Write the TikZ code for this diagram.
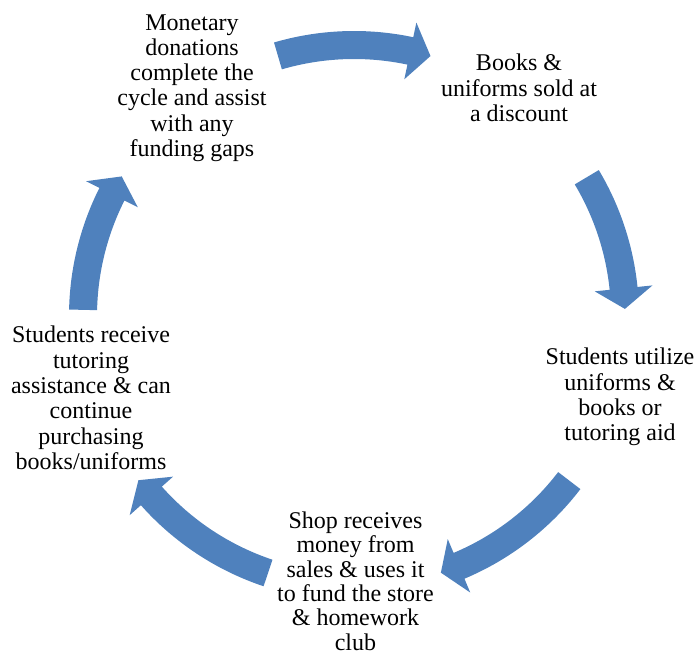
\documentclass[tikz,border=0pt]{standalone}
\usepackage{fontspec}
\setmainfont{Liberation Serif}
\usetikzlibrary{calc}
\definecolor{arrowblue}{RGB}{79,129,189}
\newcommand\cyclearrow[3]{%
  \fill[arrowblue] ($(c)+(#1:257pt)$) arc[start angle=#1, end angle=#2, radius=257pt]
    -- ($(c)+(#2:242pt)$) -- ($(c)+(#3:271pt)$) -- ($(c)+(#2:300pt)$)
    -- ($(c)+(#2:285pt)$) arc[start angle=#2, end angle=#1, radius=285pt] -- cycle;}
\tikzset{
  label text/.style={align=center, inner sep=0pt, font=\fontsize{24}{25.3}\selectfont}
}
\begin{document}
\begin{tikzpicture}[x=1pt,y=1pt]
\useasboundingbox (0,0) rectangle (694,657);
\coordinate (c) at (354,341);
\cyclearrow{106.3}{78}{73.6}
\cyclearrow{30.8}{5.85}{1.5}
\cyclearrow{-37.4}{-67.2}{-71.3}
\cyclearrow{-108.5}{-138.4}{-142.7}
\cyclearrow{178.7}{153.3}{149}
\node[label text] (mon) at (192,569) {Monetary\\donations\\complete the\\cycle and assist\\with any\\funding gaps};
\node[label text] (books) at (519,569) {Books \&\\uniforms sold at\\a discount};
\node[label text] (util) at (620,260) {Students utilize\\uniforms \&\\books or\\tutoring aid};
\node[label text, font=\fontsize{24}{24.4}\selectfont] (shop) at (355.5,76) {Shop receives\\money from\\sales \& uses it\\to fund the store\\\& homework\\club};
\node[label text] (recv) at (91,259) {Students receive\\tutoring\\assistance \& can\\continue\\purchasing\\books/uniforms};
\end{tikzpicture}
\end{document}
